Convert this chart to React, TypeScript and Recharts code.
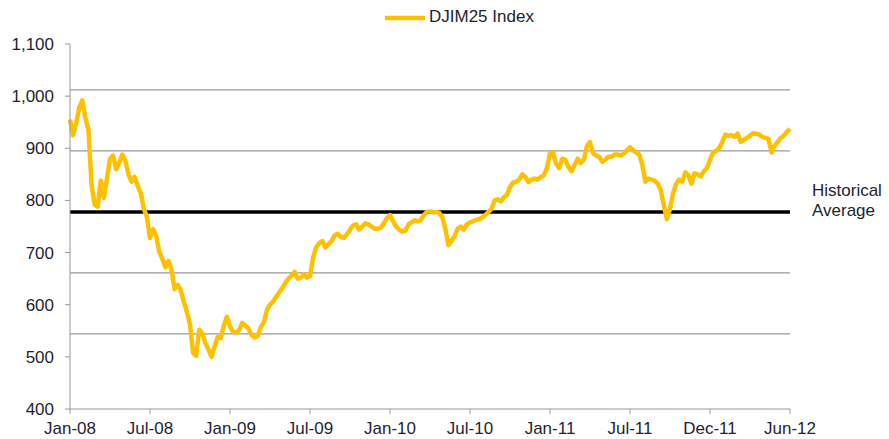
import { LineChart, Line, XAxis, YAxis, ReferenceLine, Legend } from 'recharts';

// weekly closes, Jan-08 .. Jun-12
const INDEX_VALUES = [
  955, 925, 948, 978, 992, 958, 935, 830, 792, 788,
  838, 805, 842, 880, 886, 860, 872, 888, 876, 850,
  836, 845, 828, 814, 784, 768, 728, 745, 732, 702,
  688, 672, 684, 666, 630, 638, 628, 605, 586, 562,
  508, 502, 552, 545, 526, 514, 500, 520, 538, 536,
  560, 577, 558, 548, 547, 552, 565, 560, 554, 542,
  537, 540, 557, 566, 590, 600, 606, 615, 624, 632,
  642, 650, 656, 663, 650, 652, 658, 652, 655, 690,
  710, 718, 722, 710, 716, 722, 733, 736, 730, 728,
  735, 744, 752, 754, 744, 750, 756, 754, 750, 746,
  745, 748, 756, 766, 772, 760, 750, 744, 740, 742,
  754, 758, 762, 760, 762, 772, 778, 779, 777, 778,
  776, 768, 745, 714, 722, 732, 746, 750, 744, 754,
  758, 760, 763, 764, 768, 772, 778, 784, 800, 802,
  798, 806, 810, 826, 834, 836, 840, 850, 845, 835,
  840, 842, 840, 845, 848, 862, 890, 892, 870, 862,
  880, 878, 864, 856, 868, 880, 872, 878, 904, 912,
  890, 886, 884, 874, 878, 884, 884, 888, 888, 886,
  890, 896, 902, 896, 892, 888, 868, 836, 842, 840,
  838, 832, 820, 790, 764, 784, 814, 832, 840, 836,
  854, 848, 832, 852, 850, 846, 856, 862, 878, 892,
  895, 900, 912, 926, 924, 925, 922, 928, 912, 916,
  920, 924, 929, 928, 926, 922, 920, 918, 892, 905,
  912, 920, 924, 932, 937,
];

const TICK_LABELS = ['Jan-08', 'Jul-08', 'Jan-09', 'Jul-09', 'Jan-10', 'Jul-10', 'Jan-11', 'Jul-11', 'Dec-11', 'Jun-12'];
const WEEKS_PER_TICK = 26;
const Y_TICKS = [400, 500, 600, 700, 800, 900, 1000, 1100];

const HISTORICAL_AVERAGE = 778;
const BAND_LINES = [544, 661, 895, 1012];

const data = INDEX_VALUES.map((value, week) => ({ week, value }));
const xTicks = TICK_LABELS.map((_, i) => i * WEEKS_PER_TICK);

const FONT = '"Liberation Sans", Arial, sans-serif';
const GOLD = '#FFC000';

const renderLegend = () => (
  <div style={{ position: 'relative', height: 24, fontFamily: FONT, fontSize: 17, color: '#1f1f2f' }}>
    <svg width={40} height={10} style={{ position: 'absolute', left: 385, top: 7 }}>
      <line x1={1} y1={5} x2={39} y2={5} stroke={GOLD} strokeWidth={4.5} strokeLinecap="round" />
    </svg>
    <span style={{ position: 'absolute', left: 429, top: 1, whiteSpace: 'nowrap' }}>DJIM25 Index</span>
  </div>
);

const AverageLabel = (props: any) => {
  const vb = props.viewBox || {};
  const x = vb.x + vb.width + 22;
  return (
    <text x={x} y={vb.y - 16} fill="#1f1f2f" fontSize={17} fontFamily={FONT}>
      <tspan x={x}>Historical</tspan>
      <tspan x={x} dy={20}>Average</tspan>
    </text>
  );
};

const App = () => {
  return (
    <div style={{ position: 'absolute', left: 0, top: 0, width: 889, height: 439, background: '#fff' }}>
      <LineChart width={889} height={439} data={data} margin={{ top: 20, right: 99, bottom: 0, left: 0 }}>
        <XAxis
          type="number"
          dataKey="week"
          domain={[0, INDEX_VALUES.length - 1]}
          ticks={xTicks}
          tickFormatter={(w: number) => TICK_LABELS[Math.round(w / WEEKS_PER_TICK)]}
          tick={{ fontSize: 17, fill: '#1f1f2f', fontFamily: FONT }}
          stroke="#999"
          height={30}
          tickSize={5}
          tickMargin={8}
          interval={0}
        />
        <YAxis
          domain={[400, 1100]}
          ticks={Y_TICKS}
          width={70}
          tickFormatter={(n: number) => n.toLocaleString('en-US')}
          tick={{ fontSize: 17, fill: '#1f1f2f', fontFamily: FONT }}
          stroke="#999"
          tickSize={5}
          tickMargin={11}
          interval={0}
        />
        <Legend verticalAlign="top" content={renderLegend} wrapperStyle={{ top: 6, left: 0, width: 889 }} />
        {BAND_LINES.map((v) => (
          <ReferenceLine key={v} y={v} stroke="#999" strokeWidth={1.3} />
        ))}
        <ReferenceLine y={HISTORICAL_AVERAGE} stroke="#000" strokeWidth={3.5} label={AverageLabel} />
        <Line
          type="linear"
          dataKey="value"
          stroke={GOLD}
          strokeWidth={4.5}
          dot={false}
          strokeLinejoin="round"
          isAnimationActive={false}
        />
      </LineChart>
    </div>
  );
};

export default App;
